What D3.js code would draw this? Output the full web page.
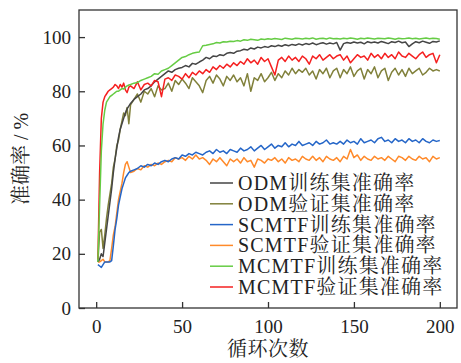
<!DOCTYPE html>
<html><head><meta charset="utf-8">
<script src="https://cdn.jsdelivr.net/npm/d3@7"></script>
<style>html,body{margin:0;padding:0;background:#fff;}svg{display:block;}</style>
</head><body>
<script>
const epochs = [1,2,3,4,5,6,7,8,9,10,11,12,13,14,15,16,17,18,19,20,
22,24,26,28,30,32,34,36,38,40,42,44,46,48,50,52,54,56,58,60,
62,64,66,68,70,72,74,76,78,80,82,84,86,88,90,92,94,96,98,100,
102,104,106,108,110,112,114,116,118,120,122,124,126,128,130,132,134,136,138,140,
142,144,146,148,150,152,154,156,158,160,162,164,166,168,170,172,174,176,178,180,
182,184,186,188,190,192,194,196,198,200];

const odmTrain = [17,18,20,19,24,29,34,39,44,50,55,59,63,66,68,70,72,73.5,74.5,75.5,
77,78,79,80.5,81,82,83.5,84.5,85.5,86.5,
87.5,87,88,88.5,88.8,89.5,89,90.3,90,90.8,
91.5,92.5,92,93,92.8,93.5,93.2,94,94.3,94,
94.8,95,95.5,95.2,96,95.6,96.3,96,96.5,96.2,
96.8,96.5,97,96.6,97.2,96.8,97.3,97,97.5,97.1,
97.6,97.3,97.8,97.2,97.6,97.9,97.4,97.8,97.5,98,
95.2,97.6,98,97.7,98.2,97.8,98.1,97.5,98.3,97.9,
98.2,97.8,98.4,98,97.6,98.3,98,98.5,97.9,98.2,
96.5,97.5,98.3,97.9,98.5,98.1,97.7,98.4,98.2,98.6];

const odmVal = [17,28,29,22,27,33,38,42,46,52,55,60,62,66,69,72,71,74,68,75,
77,79,76,80,79,81,78,82,80.5,81,
83,80,84,82.5,84.5,83,81,85,83.5,82,
79.5,84,85.5,83,86,84.5,82,85.5,84,86,
83.5,85,82,86.5,80,85,84,86.5,83.5,85,
87,84,86.5,85,87.5,86,88.5,86.5,88,87,
88.5,86,87.5,84.5,88,86.5,88.5,85,87.5,88.5,
85,88,86.5,89,85.5,87.5,88.5,84.5,88,86.5,
89,85,87.5,88.5,84,87,88.5,86,88,85.5,
88.5,86.5,87.5,88.5,86,87,88.5,87.5,88,87.5];

const scmtfTrain = [16,15.5,15,16,17,17,17,17,17.5,23,29,33,38,41,44,46,48,49,50,50.5,
51,51.5,52.5,52,53,52.5,53.5,53,54,54.5,
54,55,55.5,55,56.5,56,57,56.5,57.5,57,
56.5,57.5,58,57,58.5,57.5,58,57,58.5,58,
57.5,59,58,58.5,59.5,58,59,60,58.5,59.5,
60.5,59,60,59.5,61,59.5,60.5,60,61.5,60,
60.5,61,60,61.5,60.5,61,62,60.5,61,60.5,
61.5,60.5,62,61,61.5,60.5,62.5,61,61.5,62,
61,62.5,63,61.5,62,61,62.5,61.5,62,61,
62.5,61.5,62,61,62.5,61.5,61,62,61.5,61.8];

const scmtfVal = [17,17,17.5,18,17,17,17,17.5,22,27,30,35,40,43,46,50,53,54,52,50,
50.5,51.5,51,52.5,52,53,52.5,53.5,53,54,
54.5,54,55.5,55,55.5,54.5,56,55,56.5,55,
55.5,54.5,53,55,54,55.5,54,52.5,55,54,
55,53.5,55.5,54,54.5,52,55,54.5,53.5,55,
54.5,55.5,54,55,53.5,55.5,54.5,55,54,56,
55,54.5,56,54.5,55.5,54,56,55,54.5,55.5,
54,56,55,58.5,55.5,56.5,54.5,56,55,54.5,
56,55,55.5,54.5,56,55,54,56,55.5,54.5,
56,55,54.5,56,55,55.5,54,56,55,55.5];

const mcmtfTrain = [17,38,58,68,73,76,77,78,78.5,79,79.5,80,80,80.5,81,80.8,81.5,82,82.3,82.5,
83,83.2,84,84.5,85,85.5,86.5,86.3,87.5,88,
88.5,89.5,90.5,91.5,92.5,92.8,93.5,94,94.3,94.5,
96.8,97,97.3,97.5,98,97.8,98.3,98.2,98.5,98.4,
98.7,98.5,99,98.8,99.2,99,98.8,99.3,99.1,99.4,
99.2,99.5,99.3,99.1,99.6,99.4,99.2,99.6,99.5,99.3,
99.6,99.4,99.7,99.2,99.5,99.6,99.3,99.7,99.4,99.5,
99.3,99.6,99.4,99.7,99.5,99.2,99.6,99.4,99.7,99.5,
99.3,99.6,99.5,99.4,99.7,99.5,99.2,99.6,99.4,99.5,
99.7,99.4,99.6,99.3,99.5,99.7,99.4,99.6,99.5,99.2];

const mcmtfVal = [18,50,70,76,78,79,80,80.5,81,81.5,82.5,82,81,82.5,81.5,83,80.5,79.5,81.5,82,
81,83.5,80.5,82.5,83,82,84,83.5,78,84.5,
85,84,86,85.5,84.5,86.5,85,87,86,87.5,
86.5,88,87,89,88,89.5,88.5,90,89,90.5,
89.5,91,90,92,90.5,91.5,90,92.5,91,92,
89,86,91.5,92.5,91,93,91.5,92.5,91,93,
92,90,93,92,93.5,91.5,92.5,93.5,92,93,
93.5,91.5,93,90.5,92,93.5,92.5,93,91.5,94,
92.5,93.5,92,94,92.5,93.5,92,94.5,93,92.5,
94,93,92,93.5,94.5,92.5,93.5,94,90.5,93.5];

const xTicks = [0,50,100,150,200];
const yTicks = [0,20,40,60,80,100];
const seriesNames = ["ODM训练集准确率","ODM验证集准确率","SCMTF训练集准确率","SCMTF验证集准确率","MCMTF训练集准确率","MCMTF验证集准确率"];
const seriesColors = ["#454545","#80803a","#2566c8","#ff8a2a","#66cc44","#f52020"];
const seriesData = [odmTrain, odmVal, scmtfTrain, scmtfVal, mcmtfTrain, mcmtfVal];
const xLabel = "循环次数";
const yLabel = "准确率 / %";

const W = 461, H = 363;
const m = {left:79, top:10, right:457, bottom:308};
const font = "'Liberation Serif','Noto Serif CJK SC','Noto Sans CJK SC',serif";

const svg = d3.select("body").append("svg").attr("width",W).attr("height",H);
const x = d3.scaleLinear().domain([-10,210]).range([m.left,m.right]);
const y = d3.scaleLinear().domain([0,110]).range([m.bottom,m.top]);

const line = d3.line().x((d,i)=>x(epochs[i])).y(d=>y(d));
const drawOrder = [3,2,1,0,5,4];
drawOrder.forEach(k=>{
  svg.append("path").datum(seriesData[k]).attr("d",line)
    .attr("fill","none").attr("stroke",seriesColors[k]).attr("stroke-width",1.5)
    .attr("stroke-linejoin","round");
});

svg.append("rect").attr("x",m.left).attr("y",m.top)
  .attr("width",m.right-m.left).attr("height",m.bottom-m.top)
  .attr("fill","none").attr("stroke","#333").attr("stroke-width",1.3);

const xAxis = svg.append("g").attr("transform",`translate(0,${m.bottom})`)
  .call(d3.axisBottom(x).tickValues(xTicks).tickSizeInner(-6).tickSizeOuter(0).tickPadding(12));
const yAxis = svg.append("g").attr("transform",`translate(${m.left},0)`)
  .call(d3.axisLeft(y).tickValues(yTicks).tickSizeInner(-6).tickSizeOuter(0).tickPadding(8));
[xAxis,yAxis].forEach(g=>{
  g.select(".domain").remove();
  g.selectAll(".tick line").attr("stroke","#333").attr("stroke-width",1.3);
  g.selectAll("text").attr("font-family",font).attr("font-size",19).attr("fill","#222");
});

svg.append("text").attr("x",(m.left+m.right)/2).attr("y",356)
  .attr("text-anchor","middle").attr("font-family",font).attr("font-size",20)
  .attr("letter-spacing",0.5).attr("fill","#222").text(xLabel);
svg.append("text").attr("transform",`translate(28,${(m.top+m.bottom)/2}) rotate(-90)`)
  .attr("text-anchor","middle").attr("font-family",font).attr("font-size",20).attr("fill","#222")
  .text(yLabel);

const lg = svg.append("g");
seriesNames.forEach((name,i)=>{
  const cy = 183 + i*20.8;
  lg.append("line").attr("x1",210).attr("x2",233).attr("y1",cy).attr("y2",cy)
    .attr("stroke",seriesColors[i]).attr("stroke-width",1.5);
  lg.append("text").attr("x",238).attr("y",cy).attr("dy","0.35em")
    .attr("font-family",font).attr("font-size",20).attr("letter-spacing",1.2)
    .attr("fill","#222").text(name);
});
</script>
</body></html>
